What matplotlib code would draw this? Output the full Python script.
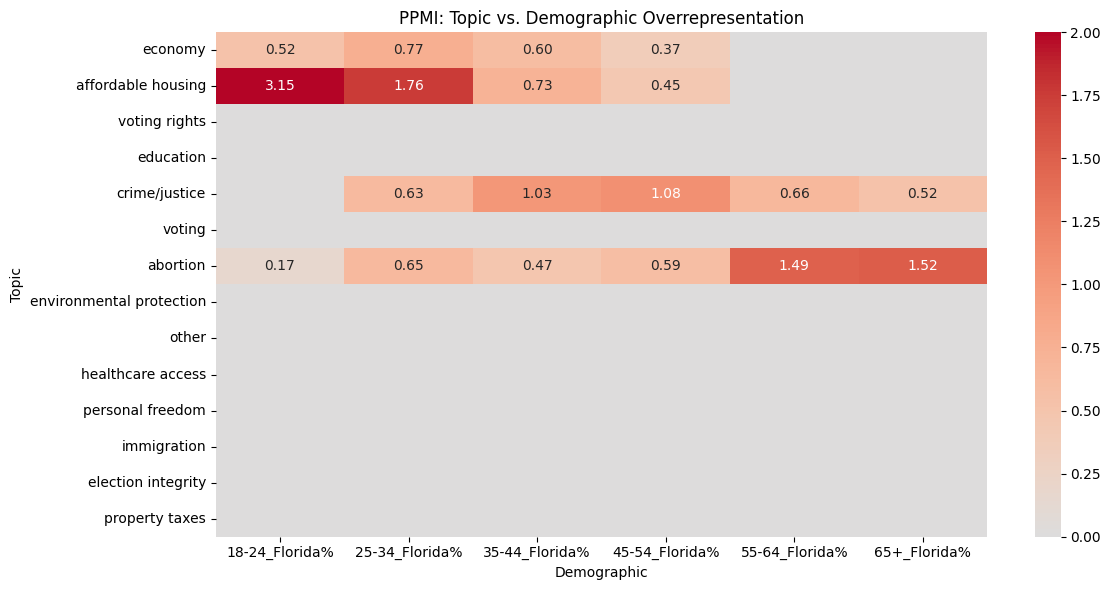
import numpy as np
import pandas as pd
import seaborn as sns
import matplotlib
matplotlib.use("Agg")
import matplotlib.pyplot as plt

topics = ["economy", "affordable housing", "voting rights", "education",
          "crime/justice", "voting", "abortion", "environmental protection",
          "other", "healthcare access", "personal freedom", "immigration",
          "election integrity", "property taxes"]
demographics = ["18-24_Florida%", "25-34_Florida%", "35-44_Florida%",
                "45-54_Florida%", "55-64_Florida%", "65+_Florida%"]

economy = [0.52, 0.77, 0.60, 0.37, 0, 0]
affordable_housing = [3.15, 1.76, 0.73, 0.45, 0, 0]
crime_justice = [0, 0.63, 1.03, 1.08, 0.66, 0.52]
abortion = [0.17, 0.65, 0.47, 0.59, 1.49, 1.52]
zeros = [0, 0, 0, 0, 0, 0]

rows = {t: zeros for t in topics}
rows["economy"] = economy
rows["affordable housing"] = affordable_housing
rows["crime/justice"] = crime_justice
rows["abortion"] = abortion

df = pd.DataFrame([rows[t] for t in topics], index=topics, columns=demographics)
labels = df.map(lambda v: f"{v:.2f}" if v > 0 else "")

plt.figure(figsize=(12, 6))
sns.heatmap(df, annot=labels, fmt="", cmap="coolwarm", center=0, vmin=0, vmax=2)
plt.title("PPMI: Topic vs. Demographic Overrepresentation")
plt.xlabel("Demographic")
plt.ylabel("Topic")
plt.tight_layout()
plt.savefig("out.png", dpi=100, bbox_inches="tight")
